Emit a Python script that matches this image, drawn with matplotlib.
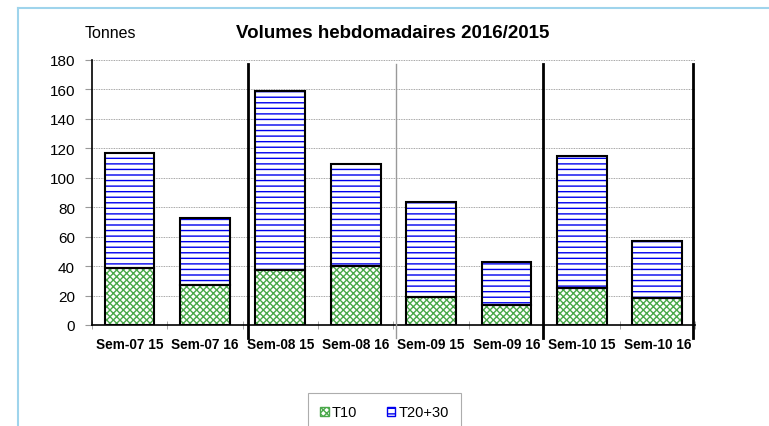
import numpy as np
import matplotlib
matplotlib.use("Agg")
import matplotlib.pyplot as plt
from matplotlib.patches import Patch
from matplotlib.lines import Line2D

plt.rcParams['font.family'] = ['Liberation Sans', 'DejaVu Sans']
plt.rcParams['hatch.linewidth'] = 1.0

# data
categories = ["Sem-07 15", "Sem-07 16", "Sem-08 15", "Sem-08 16",
              "Sem-09 15", "Sem-09 16", "Sem-10 15", "Sem-10 16"]
t10 = [38.5, 27.2, 37.6, 39.9, 18.8, 13.4, 24.9, 18.1]
total = [116.6, 72.5, 158.8, 109.6, 83.8, 43.0, 115.0, 57.0]
t2030 = [t - a for t, a in zip(total, t10)]
y_ticks = [0, 20, 40, 60, 80, 100, 120, 140, 160, 180]

fig = plt.figure(figsize=(7.69, 4.27), dpi=100)
fig.patch.set_facecolor("white")

# light blue frame (cut off on right / bottom)
fig.add_artist(Line2D([18/769, 1], [1 - 9/427, 1 - 9/427], color="#9fd4ec", lw=1.5))
fig.add_artist(Line2D([18/769, 18/769], [0, 1 - 9/427], color="#9fd4ec", lw=1.5))

ax = fig.add_axes([91.7/769, 1 - 326/427, (695 - 91.7)/769, (326 - 61)/427])
x = np.arange(len(categories))
w = 0.66

# hatched fills (hatch takes edge colour), then black outlines
ax.bar(x, t10, w, color="white", edgecolor="#4aa84a", hatch="xxxxx", lw=0, zorder=3)
ax.bar(x, t2030, w, bottom=t10, color="white", edgecolor="#0000ee", hatch="---", lw=0, zorder=3)
ax.bar(x, t10, w, fill=False, edgecolor="black", lw=1.5, zorder=4)
ax.bar(x, t2030, w, bottom=t10, fill=False, edgecolor="black", lw=1.5, zorder=4)

ax.set_xlim(-0.5, len(categories) - 0.5)
ax.set_ylim(0, 180)
ax.set_yticks(y_ticks)
ax.set_yticklabels([str(v) for v in y_ticks], fontsize=11)
ax.set_xticks(x)
ax.set_xticklabels(categories, fontsize=9.8, fontweight="bold")
ax.tick_params(axis="x", which="major", length=0, pad=9)
ax.set_xticks(np.arange(len(categories) + 1) - 0.5, minor=True)
ax.tick_params(axis="x", which="minor", direction="inout", length=6, color="#999999")
ax.tick_params(axis="y", direction="out", length=5, color="#999999", pad=7)

ax.yaxis.grid(True, linestyle=(0, (1, 1)), color="#888888", lw=0.6, zorder=0)
for s in ["top", "right"]:
    ax.spines[s].set_visible(False)
ax.spines["left"].set_linewidth(1.2)
ax.spines["bottom"].set_linewidth(1.2)

# separators between weeks
tr = ax.get_xaxis_transform()
for xs, c, lw in [(1.57, "black", 2), (3.53, "#999999", 1), (5.49, "black", 2), (7.47, "black", 2)]:
    ax.plot([xs, xs], [0.985, -0.05], transform=tr, color=c, lw=lw, clip_on=False, zorder=5)

fig.text(393/769, 1 - 33/427, "Volumes hebdomadaires 2016/2015", ha="center", va="center",
         fontsize=13.5, fontweight="bold")
fig.text(110/769, 1 - 34/427, "Tonnes", ha="center", va="center", fontsize=11.5)

# legend box runs off the bottom edge, as in the reference
handles = [Patch(facecolor="white", edgecolor="#4aa84a", hatch="xxxxx", label="T10"),
           Patch(facecolor="white", edgecolor="#0000ee", hatch="---", label="T20+30")]
leg = fig.legend(handles=handles, loc="upper left", bbox_to_anchor=(308/769, 1 - 394/427),
                 ncol=2, frameon=True, fancybox=False, fontsize=10.5, handlelength=0.6,
                 handleheight=0.6, handletextpad=0.2, columnspacing=2.0,
                 borderpad=0.85, borderaxespad=0, edgecolor="#999999")
leg.get_frame().set_linewidth(0.8)

fig.savefig("out.png", dpi=100)
